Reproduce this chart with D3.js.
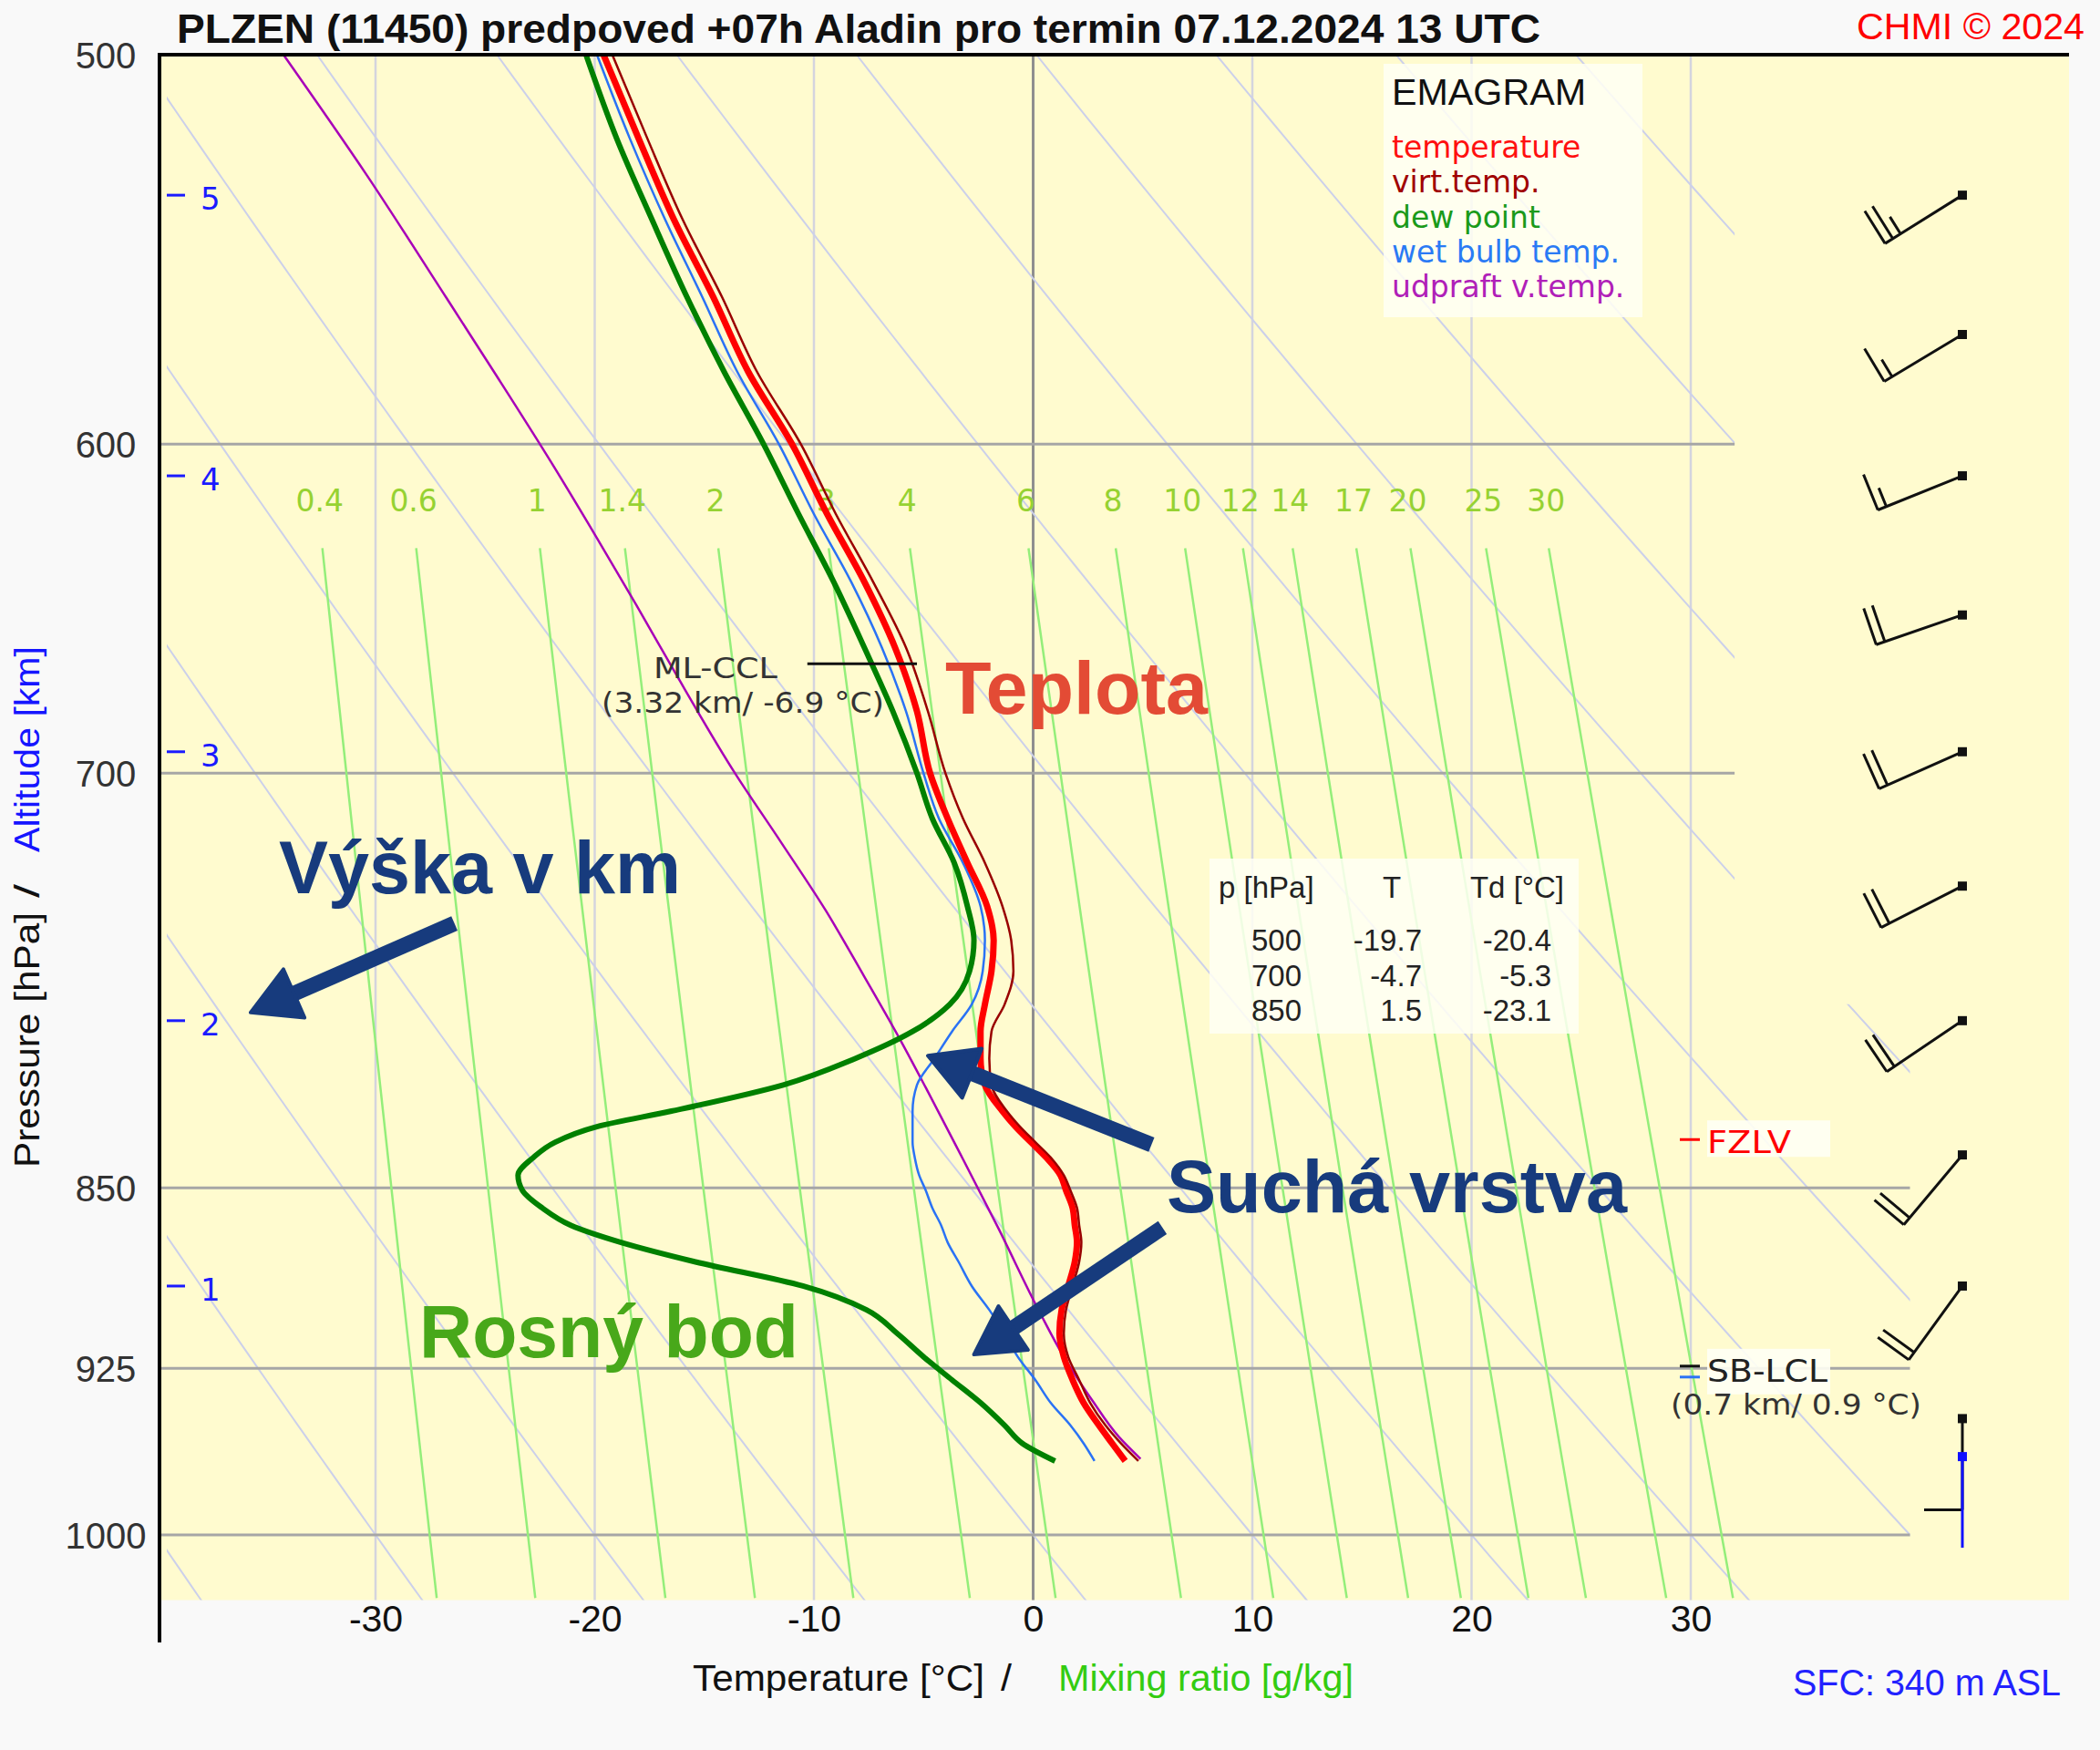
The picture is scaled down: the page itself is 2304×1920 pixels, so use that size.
<!DOCTYPE html>
<meta charset="utf-8">
<html>
<head>
<script src="https://cdn.jsdelivr.net/npm/d3@7"></script>
<style>
body { margin:0; background:#f9f9f9; }
text { font-family:'Liberation Sans', Arial, sans-serif; }
.dv { font-family:'DejaVu Sans', Verdana, sans-serif; }
</style>
</head>
<body>
<div id="my_dataviz"></div>
<script>

// ---- sounding ----
var levels   = [500, 520, 540, 560, 580, 600, 620, 640, 660, 680, 700, 715, 730, 745, 757, 768, 780, 790, 800, 810, 820,
                826, 832, 838, 845, 851, 858, 865, 872, 880, 890, 900, 910, 920, 930, 940, 950, 958, 966];
var temp     = [-19.6, -18.0, -16.4, -14.6, -13.0, -11.0, -9.4, -7.7, -6.3, -5.3, -4.7, -3.9, -3.0, -2.1, -1.8, -1.9, -2.2, -2.4, -2.4, -2.2, -1.4,
                -0.8, -0.1, 0.6, 1.25, 1.5, 1.8, 1.9, 2.0, 1.9, 1.6, 1.3, 1.2, 1.4, 1.8, 2.3, 3.0, 3.6, 4.2];
var virtTemp = [-19.2, -17.6, -16.0, -14.2, -12.6, -10.6, -9.0, -7.3, -5.8, -4.8, -4.0, -3.2, -2.2, -1.4, -1.0, -0.9, -1.3, -1.9, -2.0, -1.9, -1.2,
                -0.6, 0.1, 0.8, 1.4, 1.7, 2.0, 2.1, 2.2, 2.1, 1.8, 1.5, 1.4, 1.6, 2.1, 2.6, 3.3, 4.0, 4.8];
var dewPoint = [-20.4, -19.0, -17.4, -15.8, -14.1, -12.3, -10.7, -9.1, -7.7, -6.4, -5.3, -4.6, -3.6, -3.0, -2.7, -2.9, -3.8, -5.5, -8.1, -11.4, -16.5,
                -19.9, -21.8, -22.8, -23.5, -23.3, -22.4, -21.1, -18.8, -15.4, -10.5, -7.6, -6.2, -5.0, -3.7, -2.4, -1.3, -0.5, 1.0];
var wetBulb  = [-19.9, -18.4, -16.8, -15.1, -13.5, -11.6, -10.0, -8.3, -6.9, -5.8, -5.0, -4.3, -3.2, -2.4, -2.2, -2.3, -2.8, -3.7, -4.5, -5.3, -5.5,
                -5.5, -5.5, -5.4, -5.2, -4.9, -4.6, -4.2, -3.9, -3.4, -2.8, -2.0, -1.3, -0.7, 0.1, 0.8, 1.7, 2.3, 2.8];
var parcelP  = [500, 529, 560, 580, 605, 627, 647, 667, 700, 723, 746, 770, 794, 811, 837, 866, 901, 920, 939, 955, 965];
var parcelT  = [-34.2, -30.4, -26.8, -24.6, -22.0, -19.9, -18.1, -16.4, -13.6, -11.5, -9.5, -7.7, -6.0, -4.9, -3.3, -1.6, 0.3, 1.4, 2.7, 3.9, 4.9];

// ---- diagram axes / background lines ----
var tempTicks  = [-30, -20, -10, 0, 10, 20, 30];
var pressTicks = [500, 600, 700, 850, 925, 1000];
var pressLines = [600, 700, 850, 925, 1000];
var altKm      = [1, 2, 3, 4, 5];
var altP       = [890, 786, 693, 609, 534];
var mixRatios  = [0.4, 0.6, 1, 1.4, 2, 3, 4, 6, 8, 10, 12, 14, 17, 20, 25, 30];
var thetas     = [-40, -30, -20, -10, 0, 10, 20, 30, 40, 50, 60, 70, 80, 90, 100];

// ---- winds ----
var windP   = [534, 570, 609, 650, 693, 738, 786, 837, 890, 947];
var windDir = [238, 239, 248, 251, 246, 243, 236, 220, 216, 180];
var windKt  = [25, 15, 15, 20, 20, 20, 20, 20, 20, 10];
var sfcWindP = [964], sfcWindDir = [180];

// ---- table ----
var tableP  = [500, 700, 850];
var tableT  = [-19.7, -4.7, 1.5];
var tableTd = [-20.4, -5.3, -23.1];

var legendNames  = ["temperature", "virt.temp.", "dew point", "wet bulb temp.", "udpraft v.temp."];
var legendColors = ["#ff1010", "#a00000", "#1a9a1a", "#2a7af5", "#b020b8"];

// ---- special levels ----
var mlCclP = 665, fzlvP = 831, sbLclP = 924;

// annotation arrows (from T,p  to  T,p)
var arrowFromT = [-26.4, 5.4, 5.9], arrowFromP = [751, 833, 866];
var arrowToT   = [-35.7, -4.8, -2.7], arrowToP   = [783, 799, 919];

// ------------------------------------------------------------
var svg = d3.select("#my_dataviz").append("svg")
    .attr("width", 2304).attr("height", 1920);
svg.append("rect").attr("width", 2304).attr("height", 1920).attr("fill", "#f9f9f9");

var x = d3.scaleLinear().domain([-30, 30]).range([412, 1855]);
var y = d3.scaleLog().domain([500, 1000]).range([60, 1684]);
var plotL = 175, plotR = 2270, plotT = 60, plotB = y(1031);
var fmt = d => String(d);
var f1 = d => d.toFixed(1);

svg.append("rect").attr("x", plotL).attr("y", plotT)
    .attr("width", plotR - plotL).attr("height", plotB - plotT).attr("fill", "#fffbcf");

// vertical temperature lines
svg.selectAll(".tgrid").data(tempTicks).enter().append("line")
    .attr("x1", d => x(d)).attr("x2", d => x(d))
    .attr("y1", plotT).attr("y2", plotB)
    .attr("stroke", d => d === 0 ? "#8f8f8f" : "#d4d4de")
    .attr("stroke-width", d => d === 0 ? 3 : 2.5);

// dry adiabats
svg.append("clipPath").attr("id", "adiaClip").append("path")
    .attr("d", "M" + (plotL + 8) + "," + plotT + "H" + x(32) + "V" + y(780) + "H" + x(40) +
               "V" + plotB + "H" + (plotL + 8) + "Z");
var tpLine = d3.line().x(d => x(d[0])).y(d => y(d[1]));
var pSteps = d3.range(480, 1045, 5);
svg.append("g").attr("clip-path", "url(#adiaClip)")
  .selectAll("path").data(thetas).enter().append("path")
    .attr("d", th => tpLine(pSteps.map(p => [(th + 273.15) * Math.pow(p / 1000, 0.2857) - 273.15, p])))
    .attr("fill", "none").attr("stroke", "#ccd0ea").attr("stroke-width", 2);

// pressure lines
svg.selectAll(".pgrid").data(pressLines).enter().append("line")
    .attr("x1", plotL).attr("x2", d => d < 800 ? x(32) : x(40))
    .attr("y1", d => y(d)).attr("y2", d => y(d))
    .attr("stroke", "#a6a6a6").attr("stroke-width", 3);

// mixing ratio lines
function tdFromW(w, p) {
  var e = w * p / (622 + w), l = Math.log(e / 6.112);
  return 243.5 * l / (17.67 - l);
}
var mixSteps = d3.range(630, 1035, 10);
svg.selectAll(".mix").data(mixRatios).enter().append("path")
    .attr("d", w => tpLine(mixSteps.map(p => [tdFromW(w, p), p])))
    .attr("fill", "none").attr("stroke", "#94ee7a").attr("stroke-width", 2.5);
svg.selectAll(".mixlab").data(mixRatios).enter().append("text")
    .attr("class", "dv")
    .attr("x", w => x(tdFromW(w, 630)) - 3).attr("y", 561)
    .attr("text-anchor", "middle").attr("font-size", 33).attr("fill", "#96d232")
    .text(fmt);

// altitude ticks
svg.selectAll(".alt").data(altKm).enter().append("line")
    .attr("x1", 183).attr("x2", 203)
    .attr("y1", (d, i) => y(altP[i])).attr("y2", (d, i) => y(altP[i]))
    .attr("stroke", "#1a1aff").attr("stroke-width", 3);
svg.selectAll(".altlab").data(altKm).enter().append("text")
    .attr("class", "dv")
    .attr("x", 220).attr("y", (d, i) => y(altP[i]) + 16)
    .attr("font-size", 34).attr("fill", "#1a1aff")
    .text(fmt);

// ---- profiles ----
var prof = d3.line().x(d => x(d[0])).y(d => y(d[1])).curve(d3.curveMonotoneY);
function series(vals) { return vals.map((t, i) => [t, levels[i]]); }
var plines = [
  [parcelT.map((t, i) => [t, parcelP[i]]), "#a800b8", 2.5],
  [series(wetBulb), "#2a72f5", 2.5],
  [series(dewPoint), "#008000", 6],
  [series(temp), "#ff0000", 7],
  [series(virtTemp), "#990000", 2.5]
];
plines.forEach(function(s) {
  svg.append("path").attr("d", prof(s[0]))
    .attr("fill", "none").attr("stroke", s[1]).attr("stroke-width", s[2])
    .attr("stroke-linejoin", "round");
});

// ---- axes ----
var xAxis = svg.append("g").attr("transform", "translate(0," + plotB + ")")
    .call(d3.axisBottom(x).tickValues(tempTicks).tickSize(0).tickFormat(fmt));
xAxis.select(".domain").remove();
xAxis.selectAll("text").attr("y", 34).attr("dy", 0)
    .attr("font-size", 41).attr("fill", "#111")
    .style("font-family", "'Liberation Sans', Arial, sans-serif");

var yAxis = svg.append("g").attr("transform", "translate(" + plotL + ",0)")
    .call(d3.axisLeft(y).tickValues(pressTicks).tickSize(0).tickFormat(fmt));
yAxis.select(".domain").remove();
yAxis.selectAll("text").attr("x", -59).attr("dy", "0.36em")
    .attr("text-anchor", "middle").attr("font-size", 40).attr("fill", "#333")
    .style("font-family", "'Liberation Sans', Arial, sans-serif");

svg.append("line").attr("x1", plotL).attr("x2", plotL).attr("y1", plotT - 2).attr("y2", 1802)
    .attr("stroke", "#000").attr("stroke-width", 4);
svg.append("line").attr("x1", plotL).attr("x2", plotR).attr("y1", plotT).attr("y2", plotT)
    .attr("stroke", "#000").attr("stroke-width", 4);

// ---- titles ----
svg.append("text").attr("x", 194).attr("y", 47)
    .attr("font-size", 44).attr("font-weight", "bold").attr("fill", "#111")
    .attr("textLength", 1496).attr("lengthAdjust", "spacingAndGlyphs")
    .text("PLZEN (11450) predpoved +07h Aladin pro termin 07.12.2024 13 UTC");
svg.append("text").attr("x", 2037).attr("y", 43)
    .attr("font-size", 40).attr("fill", "#ff0000")
    .attr("textLength", 250).attr("lengthAdjust", "spacingAndGlyphs")
    .text("CHMI \u00a9 2024");

var ylab = [["Pressure [hPa]", 1281, 280, "#111"], ["/", 985, 15, "#111"], ["Altitude [km]", 935, 226, "#1515ff"]];
ylab.forEach(function(l) {
  svg.append("text").attr("transform", "translate(43," + l[1] + ") rotate(-90)")
    .attr("font-size", 39).attr("fill", l[3])
    .attr("textLength", l[2]).attr("lengthAdjust", "spacingAndGlyphs")
    .text(l[0]);
});

var xlab = [["Temperature [\u00b0C]", 760, 320, "#111"], ["/", 1098, 12, "#111"], ["Mixing ratio [g/kg]", 1161, 324, "#33cc11"]];
xlab.forEach(function(l) {
  svg.append("text").attr("x", l[1]).attr("y", 1855)
    .attr("font-size", 40).attr("fill", l[3])
    .attr("textLength", l[2]).attr("lengthAdjust", "spacingAndGlyphs")
    .text(l[0]);
});
svg.append("text").attr("x", 1967).attr("y", 1860)
    .attr("font-size", 40).attr("fill", "#2222ff")
    .attr("textLength", 294).attr("lengthAdjust", "spacingAndGlyphs")
    .text("SFC: 340 m ASL");

// ---- legend ----
svg.append("rect").attr("x", 1518).attr("y", 70).attr("width", 284).attr("height", 278)
    .attr("fill", "#fffff4").attr("opacity", 0.85);
svg.append("text").attr("x", 1527).attr("y", 115).attr("font-size", 41).attr("fill", "#111")
    .attr("textLength", 213).attr("lengthAdjust", "spacingAndGlyphs").text("EMAGRAM");
svg.selectAll(".leg").data(legendNames).enter().append("text")
    .attr("class", "dv")
    .attr("x", 1527).attr("y", (d, i) => 173 + i * 38.3)
    .attr("font-size", 33).attr("fill", (d, i) => legendColors[i])
    .text(d => d);

// ---- table ----
svg.append("rect").attr("x", 1327).attr("y", 942).attr("width", 405).attr("height", 192)
    .attr("fill", "#fffff4").attr("opacity", 0.85);
var tg = svg.append("g").attr("class", "dv").attr("font-size", 33).attr("fill", "#222");
tg.append("text").attr("x", 1337).attr("y", 985).text("p [hPa]");
tg.append("text").attr("x", 1527).attr("y", 985).attr("text-anchor", "middle").text("T");
tg.append("text").attr("x", 1716).attr("y", 985).attr("text-anchor", "end").text("Td [\u00b0C]");
tableP.forEach(function(p, i) {
  var yy = 1043 + i * 38.5;
  tg.append("text").attr("x", 1428).attr("y", yy).attr("text-anchor", "end").text(p);
  tg.append("text").attr("x", 1560).attr("y", yy).attr("text-anchor", "end").text(f1(tableT[i]));
  tg.append("text").attr("x", 1702).attr("y", yy).attr("text-anchor", "end").text(f1(tableTd[i]));
});

// ---- ML-CCL ----
svg.append("line").attr("x1", x(-10.3)).attr("x2", x(-5.3))
    .attr("y1", y(mlCclP)).attr("y2", y(mlCclP)).attr("stroke", "#111").attr("stroke-width", 3);
svg.append("text").attr("class", "dv").attr("x", 717).attr("y", y(mlCclP) + 16)
    .attr("font-size", 32).attr("fill", "#333")
    .attr("textLength", 136).attr("lengthAdjust", "spacingAndGlyphs").text("ML-CCL");
svg.append("text").attr("class", "dv").attr("x", 660).attr("y", y(mlCclP) + 54)
    .attr("font-size", 32).attr("fill", "#333")
    .attr("textLength", 310).attr("lengthAdjust", "spacingAndGlyphs").text("(3.32 km/ -6.9 \u00b0C)");

// ---- FZLV / SB-LCL ----
svg.append("line").attr("x1", 1843).attr("x2", 1865).attr("y1", y(fzlvP)).attr("y2", y(fzlvP))
    .attr("stroke", "#ff0000").attr("stroke-width", 3);
svg.append("rect").attr("x", 1873).attr("y", y(fzlvP) - 21).attr("width", 135).attr("height", 40)
    .attr("fill", "#fffff4").attr("opacity", 0.9);
svg.append("text").attr("class", "dv").attr("x", 1873).attr("y", y(fzlvP) + 15)
    .attr("font-size", 33).attr("fill", "#ff0000")
    .attr("textLength", 92).attr("lengthAdjust", "spacingAndGlyphs").text("FZLV");

svg.append("line").attr("x1", 1843).attr("x2", 1865).attr("y1", y(sbLclP)).attr("y2", y(sbLclP))
    .attr("stroke", "#111").attr("stroke-width", 3);
svg.append("line").attr("x1", 1843).attr("x2", 1865).attr("y1", y(sbLclP) + 12).attr("y2", y(sbLclP) + 12)
    .attr("stroke", "#2a72f5").attr("stroke-width", 3);
svg.append("rect").attr("x", 1873).attr("y", y(sbLclP) - 19).attr("width", 135).attr("height", 50)
    .attr("fill", "#fffff4").attr("opacity", 0.9);
svg.append("text").attr("class", "dv").attr("x", 1873).attr("y", y(sbLclP) + 17)
    .attr("font-size", 33).attr("fill", "#222")
    .attr("textLength", 132).attr("lengthAdjust", "spacingAndGlyphs").text("SB-LCL");
svg.append("text").attr("class", "dv").attr("x", 1833).attr("y", y(sbLclP) + 53)
    .attr("font-size", 32).attr("fill", "#333")
    .attr("textLength", 275).attr("lengthAdjust", "spacingAndGlyphs").text("(0.7 km/ 0.9 \u00b0C)");

// ---- wind barbs ----
var barbX = 2153;
function barb(p, dir, kt, color) {
  var px = barbX, py = y(p), len = 100, rad = dir * Math.PI / 180;
  var ux = Math.sin(rad), uy = -Math.cos(rad);
  var ex = px + len * ux, ey = py + len * uy;
  var nx = -uy, ny = ux, sp = 10;
  var d = "M" + px + "," + py + "L" + ex + "," + ey;
  var n10 = Math.floor(kt / 10), n5 = Math.round((kt % 10) / 5);
  for (var i = 0; i < n10; i++) {
    var bx = ex - i * sp * ux, by = ey - i * sp * uy;
    d += "M" + bx + "," + by + "L" + (bx + 42 * nx) + "," + (by + 42 * ny);
  }
  if (n5) {
    var hx = ex - n10 * sp * ux, hy = ey - n10 * sp * uy;
    d += "M" + hx + "," + hy + "L" + (hx + 22 * nx) + "," + (hy + 22 * ny);
  }
  svg.append("path").attr("d", d).attr("fill", "none").attr("stroke", color).attr("stroke-width", 3);
  svg.append("rect").attr("x", px - 5).attr("y", py - 5).attr("width", 10).attr("height", 10).attr("fill", color);
}
windP.forEach((p, i) => barb(p, windDir[i], windKt[i], "#111"));
sfcWindP.forEach((p, i) => barb(p, sfcWindDir[i], 0, "#1010ff"));

// ---- annotations ----
var navy = "#173b7d";
svg.append("text").attr("x", 306).attr("y", 980).attr("font-size", 82).attr("font-weight", "bold")
    .attr("fill", navy).attr("textLength", 441).attr("lengthAdjust", "spacingAndGlyphs").text("V\u00fd\u0161ka v km");
svg.append("text").attr("x", 1280).attr("y", 1330).attr("font-size", 82).attr("font-weight", "bold")
    .attr("fill", navy).attr("textLength", 505).attr("lengthAdjust", "spacingAndGlyphs").text("Such\u00e1 vrstva");
svg.append("text").attr("x", 460).attr("y", 1489).attr("font-size", 82).attr("font-weight", "bold")
    .attr("fill", "#48a81a").attr("textLength", 416).attr("lengthAdjust", "spacingAndGlyphs").text("Rosn\u00fd bod");
svg.append("text").attr("x", 1037).attr("y", 783).attr("font-size", 81).attr("font-weight", "bold")
    .attr("fill", "#e34b35").attr("textLength", 288).attr("lengthAdjust", "spacingAndGlyphs").text("Teplota");

arrowFromT.forEach(function(t0, i) {
  var x0 = x(t0), y0 = y(arrowFromP[i]), x1 = x(arrowToT[i]), y1 = y(arrowToP[i]);
  var dx = x1 - x0, dy = y1 - y0, L = Math.hypot(dx, dy), ux = dx / L, uy = dy / L;
  var hl = 52, hw = 29, bx = x1 - hl * ux, by = y1 - hl * uy;
  svg.append("line").attr("x1", x0).attr("y1", y0).attr("x2", bx + 6 * ux).attr("y2", by + 6 * uy)
    .attr("stroke", navy).attr("stroke-width", 17);
  svg.append("path")
    .attr("d", "M" + x1 + "," + y1 + "L" + (bx - hw * uy) + "," + (by + hw * ux) +
               "L" + (bx + hw * uy) + "," + (by - hw * ux) + "Z")
    .attr("fill", navy).attr("stroke", navy).attr("stroke-width", 4).attr("stroke-linejoin", "round");
});

</script>
</body>
</html>
